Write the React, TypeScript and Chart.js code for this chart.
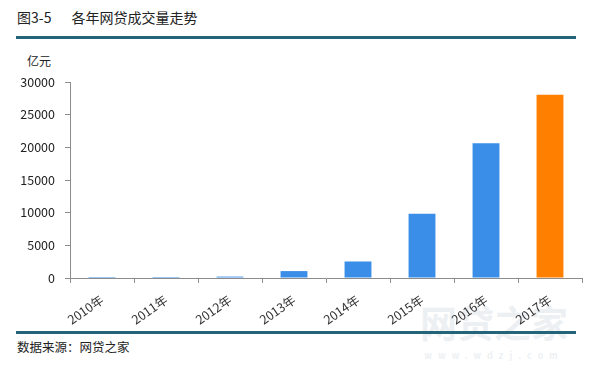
import React, { useEffect, useRef } from "react";
import { Chart, registerables } from "chart.js";

Chart.register(...registerables);

const categories = ["2010年", "2011年", "2012年", "2013年", "2014年", "2015年", "2016年", "2017年"];
const volumes = [14, 96, 212, 1058, 2528, 9823, 20639, 28048];
const barColors = ["#3A8EE8", "#3A8EE8", "#3A8EE8", "#3A8EE8", "#3A8EE8", "#3A8EE8", "#3A8EE8", "#FF8000"];
const yTicks = [0, 5000, 10000, 15000, 20000, 25000, 30000];

const FONT = "'Noto Sans CJK SC', 'Noto Sans', sans-serif";

export default function App() {
  const ref = useRef<HTMLCanvasElement | null>(null);

  useEffect(() => {
    document.body.style.margin = "0";
    const ctx = ref.current!;
    const chart = new Chart(ctx, {
      type: "bar",
      data: {
        labels: categories,
        datasets: [
          {
            data: volumes,
            backgroundColor: barColors,
            barPercentage: 0.84,
            categoryPercentage: 0.5,
            minBarLength: 1,
          },
        ],
      },
      options: {
        animation: false,
        responsive: false,
        maintainAspectRatio: false,
        layout: { padding: { top: 32, right: 9, left: 0, bottom: 0 } },
        plugins: { legend: { display: false }, tooltip: { enabled: false } },
        scales: {
          x: {
            grid: { drawOnChartArea: false, drawTicks: true, tickLength: 5, color: "#8c8c8c", offset: true },
            border: { color: "#8c8c8c", width: 1 },
            ticks: {
              color: "#333",
              font: { family: FONT, size: 12.5 },
              minRotation: 35,
              maxRotation: 35,
              padding: 9,
            },
            afterFit: (s: any) => {
              s.height = 52;
            },
          },
          y: {
            min: 0,
            max: 30000,
            afterBuildTicks: (s: any) => {
              s.ticks = yTicks.map((v) => ({ value: v }));
            },
            grid: { drawOnChartArea: false, drawTicks: true, tickLength: 5, color: "#8c8c8c" },
            border: { color: "#8c8c8c", width: 1 },
            ticks: {
              color: "#222",
              font: { family: FONT, size: 12.5 },
              padding: 10,
              callback: (v: any) => String(v),
            },
            afterFit: (s: any) => {
              s.width = 70;
            },
          },
        },
      },
    });
    return () => chart.destroy();
  }, []);

  return (
    <div style={{ position: "relative", width: 591, height: 372, background: "#fff", overflow: "hidden", fontFamily: FONT }}>
      <div style={{ position: "absolute", left: 17, top: 7, fontSize: 14, color: "#222", whiteSpace: "pre" }}>
        图3-5<span style={{ display: "inline-block", width: 20 }}></span>各年网贷成交量走势
      </div>
      <div style={{ position: "absolute", left: 16, top: 36, width: 560, height: 3, background: "#236478" }} />
      <div style={{ position: "absolute", left: 27, top: 52, fontSize: 12, color: "#222" }}>亿元</div>
      <div style={{ position: "absolute", left: 418, top: 300, width: 152, textAlign: "center", fontSize: 37, lineHeight: "44px", fontWeight: 700, color: "rgba(225,230,234,0.6)" }}>网贷之家</div>
      <div style={{ position: "absolute", left: 418, top: 349, width: 152, textAlign: "center", fontSize: 9, letterSpacing: 6, fontWeight: 700, color: "rgba(225,230,234,0.6)" }}>www.wdzj.com</div>
      <canvas ref={ref} width={591} height={280} style={{ position: "absolute", left: 0, top: 50, width: 591, height: 280 }} />
      <div style={{ position: "absolute", left: 16, top: 331, width: 560, height: 3, background: "#236478" }} />
      <div style={{ position: "absolute", left: 17, top: 337, fontSize: 12.5, color: "#222" }}>数据来源：网贷之家</div>
    </div>
  );
}
